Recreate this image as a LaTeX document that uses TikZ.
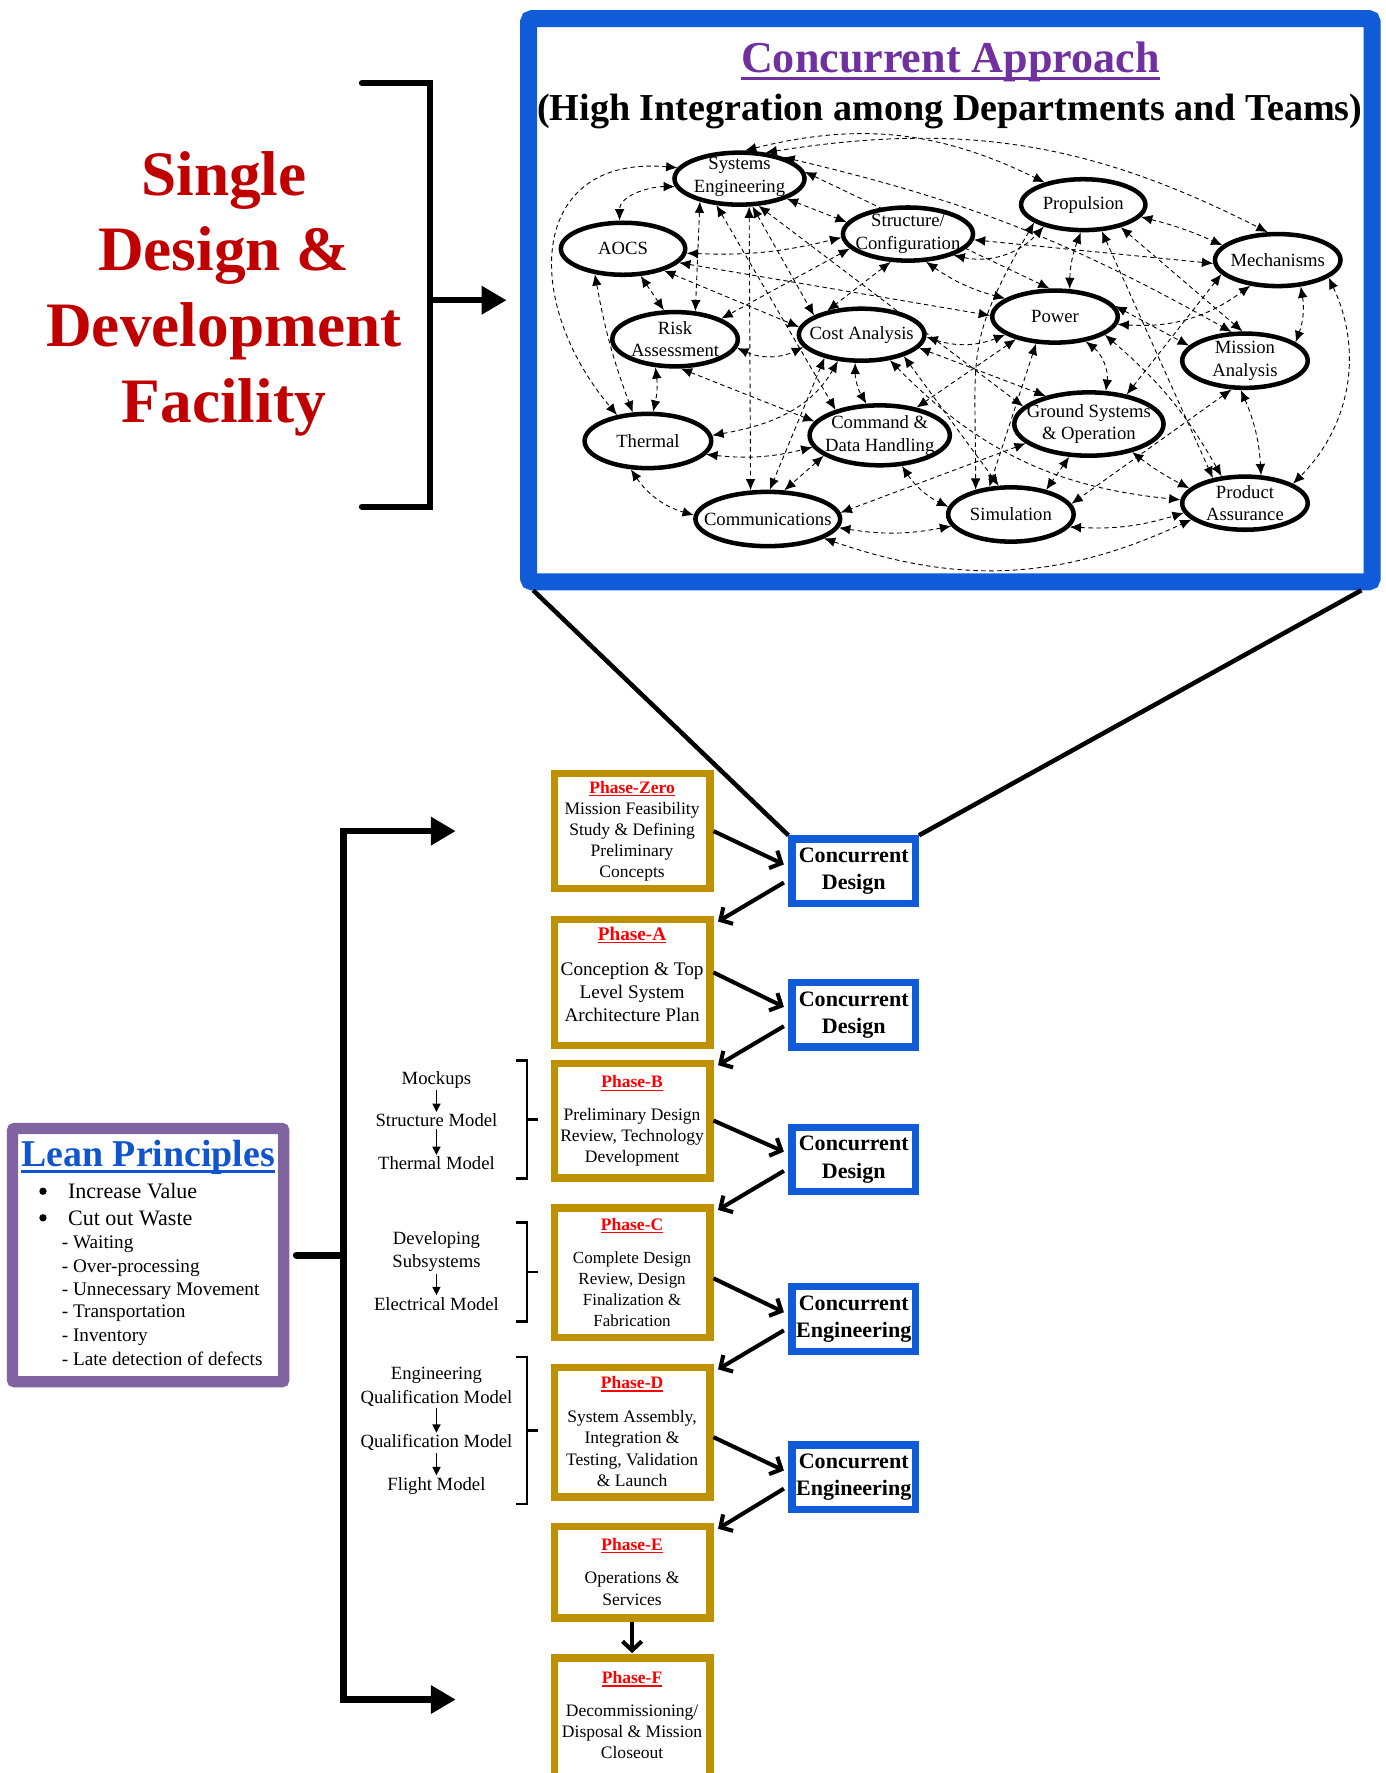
\documentclass[tikz,border=0pt]{standalone}
\usepackage{fontspec}
\setmainfont{Liberation Serif}
\usetikzlibrary{shapes.geometric,arrows.meta,backgrounds}
\definecolor{bigblue}{RGB}{16,92,216}
\definecolor{goldc}{RGB}{191,144,0}
\definecolor{sdred}{RGB}{192,0,0}
\definecolor{capurple}{RGB}{112,48,160}
\definecolor{leanpurple}{RGB}{128,100,162}
\definecolor{leanblue}{RGB}{17,85,204}
\newcommand{\ulbox}[1]{\setbox0\hbox{#1}\rlap{\rule[-0.16em]{\wd0}{0.07em}}\box0}
\begin{document}
\begin{tikzpicture}[x=1pt,y=-1pt,
  ell/.style={ellipse, draw, line width=4pt, fill=white, inner sep=0pt},
  elltxt/.style={align=center, inner sep=0pt, font=\fontsize{16.5}{20}\selectfont},
  conn/.style={line width=0.8pt, dash pattern=on 4pt off 3pt, {Latex[length=10pt,width=8.5pt]}-{Latex[length=10pt,width=8.5pt]}},
  pbox/.style={draw=goldc, line width=6.5pt, minimum width=137.5pt, inner sep=0pt},
  cbox/.style={draw=bigblue, line width=6.5pt, minimum width=109pt, minimum height=57pt, inner sep=0pt, align=center, font=\fontsize{19.5}{24}\selectfont\bfseries},
  ptitle/.style={font=\fontsize{15.5}{18}\selectfont\bfseries, text=red, inner sep=0pt},
  pbody/.style={align=center, inner sep=0pt, font=\fontsize{15.5}{18.7}\selectfont},
  sidetxt/.style={align=center, inner sep=1.5pt, font=\fontsize{16.5}{20.5}\selectfont},
  sidearr/.style={line width=1.7pt, -{Triangle[length=7.5pt,width=7pt]}},
  barb/.style={line width=3.6pt, -{Straight Barb[length=8pt,width=17pt]}},
  brk/.style={line width=2.4pt},
  bul/.style={circle, fill, inner sep=0pt, minimum size=6.5pt},
  sdtxt/.style={anchor=base, inner sep=0pt, text=sdred, font=\fontsize{56}{67}\selectfont\bfseries},
]
\useasboundingbox (0,0) rectangle (1225,1568);
\clip (0,0) rectangle (1225,1568);

% ---------- Single Design & Development Facility ----------
\node[sdtxt] (sd1) at (198,172.5) {Single};
\node[sdtxt] (sd2) at (198,239.4) {Design \&};
\node[sdtxt] (sd3) at (198,306.6) {Development};
\node[sdtxt] (sd4) at (198,373.8) {Facility};

% ---------- big blue box ----------
\node[draw=bigblue, line width=15pt, rounded corners=3pt, minimum width=746pt, minimum height=498pt, inner sep=0pt] (bigbox) at (840.5,265.5) {};
\coordinate (bkt) at (380,73.5);
\coordinate (bkb) at (380,448);
\coordinate (bkm) at (380,265.5);
\draw[line width=5.3pt, line cap=round, line join=miter] (320,73.5) -- (bkt) -- (bkb) -- (320,448);
\draw[line width=5.3pt, -{Triangle[length=22pt,width=24pt]}] (bkm) -- ([xshift=-12pt]bigbox.west);

\node[anchor=base, inner sep=0pt, text=capurple, font=\fontsize{39}{46}\selectfont\bfseries] (catitle) at (840.5,64.5) {\ulbox{Concurrent Approach}};
\node[anchor=base, inner sep=0pt, font=\fontsize{33.7}{40}\selectfont\bfseries] (casub) at (840,107) {(High Integration among Departments and Teams)};

% ---------- network nodes ----------
\node[ell, minimum width=115pt, minimum height=46pt] (SE) at (654,158) {};
\node[elltxt] (SEt) at (654,156.5) {Systems\\Engineering};
\node[ell, minimum width=110pt, minimum height=46pt] (AOCS) at (551,220) {};
\node[elltxt] (AOCSt) at (AOCS) {AOCS};
\node[ell, minimum width=115pt, minimum height=47pt] (STR) at (803,207) {};
\node[elltxt] (STRt) at (STR) {Structure/\\Configuration};
\node[ell, minimum width=110pt, minimum height=45pt] (PROP) at (958,181) {};
\node[elltxt] (PROPt) at (PROP) {Propulsion};
\node[ell, minimum width=111pt, minimum height=46pt] (MECH) at (1130,230) {};
\node[elltxt] (MECHt) at (MECH) {Mechanisms};
\node[ell, minimum width=111pt, minimum height=46pt] (PWR) at (933,280) {};
\node[elltxt] (PWRt) at (PWR) {Power};
\node[ell, minimum width=111pt, minimum height=48pt] (RISK) at (597,300) {};
\node[elltxt] (RISKt) at (RISK) {Risk\\Assessment};
\node[ell, minimum width=111pt, minimum height=46pt] (COST) at (762,296) {};
\node[elltxt] (COSTt) at (COST) {Cost Analysis};
\node[ell, minimum width=111pt, minimum height=48pt] (MIS) at (1101,319) {};
\node[elltxt] (MISt) at (MIS) {Mission\\Analysis};
\node[ell, minimum width=112pt, minimum height=48pt] (TH) at (573,390) {};
\node[elltxt] (THt) at (TH) {Thermal};
\node[ell, minimum width=124pt, minimum height=53pt] (CDH) at (778,385) {};
\node[elltxt] (CDHt) at (CDH) {Command \&\\Data Handling};
\node[ell, minimum width=132pt, minimum height=56pt] (GS) at (963,375) {};
\node[elltxt] (GSt) at (GS) {Ground Systems\\\& Operation};
\node[ell, minimum width=128pt, minimum height=48pt] (COM) at (679,459) {};
\node[elltxt] (COMt) at (COM) {Communications};
\node[ell, minimum width=111pt, minimum height=48pt] (SIM) at (894,455) {};
\node[elltxt] (SIMt) at (SIM) {Simulation};
\node[ell, minimum width=111pt, minimum height=47pt] (PA) at (1101,445) {};
\node[elltxt] (PAt) at (PA) {Product\\Assurance};

\begin{pgfonlayer}{background}
\draw[conn] (SE.187) to[out=180,in=90] (AOCS.97);
\draw[conn] (SE.170) to[out=175,in=130,looseness=1.5] (TH.140);
\draw[conn] (SE.210) -- (RISK.54);
\draw[conn] (SE.289) -- (COM.121);
\draw[conn] (SE.229) -- (CDH.150);
\draw[conn] (SE.295) -- (COST.158);
\draw[conn] (SE.305) -- (GS.165);
\draw[conn] (SE.337) -- (STR.169);
\draw[conn] (SE.79) to[bend left=20] (PROP.150);
\draw[conn] (SE.45) to[bend left=18] (MECH.110);
\draw[conn] (SE.26) to[bend left=8] (MIS.115);
\draw[conn] (SE.6) -- (PWR.101);
\draw[conn] (AOCS.356) to[bend right=8] (STR.183);
\draw[conn] (AOCS.303) -- (RISK.111);
\draw[conn] (AOCS.222) to[bend right=5] (TH.118);
\draw[conn] (AOCS.332) -- (COST.173);
\draw[conn] (AOCS.346) -- (PWR.179);
\draw[conn] (STR.194) -- (RISK.24);
\draw[conn] (STR.238) -- (COST.145);
\draw[conn] (STR.303) to[bend right=10] (PWR.160);
\draw[conn] (STR.335) to[bend right=30] (PROP.209);
\draw[conn] (STR.355) -- (MECH.183);
\draw[conn] (PROP.265) to[bend right=10] (PWR.62);
\draw[conn] (PROP.200) to[out=240,in=90,looseness=1.3] (SIM.145);
\draw[conn] (PROP.305) -- (PA.142);
\draw[conn] (PROP.329) -- (MIS.95);
\draw[conn] (PROP.348) to[bend left=5] (MECH.165);
\draw[conn] (PWR.200) to[bend left=20] (COST.358);
\draw[conn] (PWR.210) -- (CDH.37);
\draw[conn] (PWR.235) -- (SIM.128);
\draw[conn] (PWR.321) to[bend left=30] (GS.63);
\draw[conn] (PWR.10) -- (MIS.165);
\draw[conn] (PWR.353) to[bend right=20] (MECH.223);
\draw[conn] (PWR.340) to[bend left=10] (PA.131);
\draw[conn] (MECH.311) to[bend left=15] (MIS.20);
\draw[conn] (MECH.341) to[bend left=35] (PA.22);
\draw[conn] (MECH.194) -- (GS.38);
\draw[conn] (MIS.262) to[bend left=10] (PA.60);
\draw[conn] (MIS.245) -- (SIM.10);
\draw[conn] (RISK.352) to[bend right=25] (COST.192);
\draw[conn] (RISK.235) to[bend left=10] (TH.80);
\draw[conn] (RISK.281) -- (CDH.168);
\draw[conn] (COST.257) to[bend right=15] (CDH.113);
\draw[conn] (COST.212) -- (COM.86);
\draw[conn] (TH.5) to[out=10,in=240] (COST.228);
\draw[conn] (TH.347) to[bend right=10] (CDH.190);
\draw[conn] (TH.239) to[bend right=20] (COM.177);
\draw[conn] (COST.347) -- (GS.147);
\draw[conn] (COST.333) -- (SIM.113);
\draw[conn] (COST.318) to[bend right=20] (PA.177);
\draw[conn] (CDH.306) to[bend right=15] (SIM.173);
\draw[conn] (CDH.200) -- (COM.60);
\draw[conn] (GS.239) -- (SIM.35);
\draw[conn] (GS.327) to[bend right=5] (PA.165);
\draw[conn] (GS.197) -- (COM.5);
\draw[conn] (COM.353) to[bend right=10] (SIM.191);
\draw[conn] (COM.341) to[bend right=22] (PA.197);
\draw[conn] (SIM.348) to[bend right=10] (PA.189);
\end{pgfonlayer}

% ---------- phase boxes ----------
\node[pbox, minimum height=101.5pt] (pZ) at (559,735) {};
\node[pbody] (pZb) at (559,735) {\textcolor{red}{\bfseries\ulbox{Phase-Zero}}\\Mission Feasibility\\Study \& Defining\\Preliminary\\Concepts};

\node[pbox, minimum height=111.5pt] (pA) at (559,869) {};
\node[ptitle, font=\fontsize{17}{20}\selectfont\bfseries] (pAt) at (559,827) {\ulbox{Phase-A}};
\node[pbody, font=\fontsize{17}{20.5}\selectfont] (pAb) at (559,877.5) {Conception \& Top\\Level System\\Architecture Plan};

\node[pbox, minimum height=101.5pt] (pB) at (559,991) {};
\node[ptitle] (pBt) at (559,958) {\ulbox{Phase-B}};
\node[pbody] (pBb) at (559,1006) {Preliminary Design\\Review, Technology\\Development};

\node[pbox, minimum height=114.5pt] (pC) at (559,1125.5) {};
\node[ptitle] (pCt) at (559,1084) {\ulbox{Phase-C}};
\node[pbody, font=\fontsize{15}{18.7}\selectfont] (pCb) at (559,1140) {Complete Design\\Review, Design\\Finalization \&\\Fabrication};

\node[pbox, minimum height=114.5pt] (pD) at (559,1266.5) {};
\node[ptitle] (pDt) at (559,1224) {\ulbox{Phase-D}};
\node[pbody] (pDb) at (559,1281) {System Assembly,\\Integration \&\\Testing, Validation\\\& Launch};

\node[pbox, minimum height=80.5pt] (pE) at (559,1390.5) {};
\node[ptitle] (pEt) at (559,1367) {\ulbox{Phase-E}};
\node[pbody] (pEb) at (559,1405) {Operations \&\\Services};

\node[pbox, minimum height=115pt] (pF) at (559,1523.75) {};
\node[ptitle] (pFt) at (559,1485) {\ulbox{Phase-F}};
\node[pbody] (pFb) at (559,1531.5) {Decommissioning/\\Disposal \& Mission\\Closeout};

% ---------- concurrent boxes ----------
\node[cbox] (cd1) at (755,770.5) {Concurrent\\Design};
\node[cbox] (cd2) at (755,897.5) {Concurrent\\Design};
\node[cbox] (cd3) at (755,1025.5) {Concurrent\\Design};
\node[cbox] (ce1) at (755,1166.5) {Concurrent\\Engineering};
\node[cbox] (ce2) at (755,1306.5) {Concurrent\\Engineering};

\draw[line width=4pt] ([xshift=11.5pt]bigbox.south west) -- (cd1.north west);
\draw[line width=4pt] ([xshift=-17pt]bigbox.south east) -- (cd1.north east);

\draw[barb] (pZ.east) -- ([xshift=-4pt,yshift=6pt]cd1.west);
\draw[barb] ([xshift=-4pt,yshift=-10pt]cd1.west) -- ([xshift=4pt,yshift=-5pt]pA.north east);
\draw[barb] ([yshift=9pt]pA.east) -- ([xshift=-4pt,yshift=7pt]cd2.west);
\draw[barb] ([xshift=-4pt,yshift=-10pt]cd2.west) -- ([xshift=4pt,yshift=-5pt]pB.north east);
\draw[barb] (pB.east) -- ([xshift=-4pt,yshift=7pt]cd3.west);
\draw[barb] ([xshift=-4pt,yshift=-10pt]cd3.west) -- ([xshift=4pt,yshift=-5pt]pC.north east);
\draw[barb] ([yshift=-5pt]pC.east) -- ([xshift=-4pt,yshift=6pt]ce1.west);
\draw[barb] ([xshift=-4pt,yshift=-10pt]ce1.west) -- ([xshift=4pt,yshift=-5pt]pD.north east);
\draw[barb] ([yshift=-4.5pt]pD.east) -- ([xshift=-4pt,yshift=6pt]ce2.west);
\draw[barb] ([xshift=-4pt,yshift=-10pt]ce2.west) -- ([xshift=4pt,yshift=-5pt]pE.north east);
\draw[barb] (pE.south) -- ([yshift=1pt]pF.north);

% ---------- side texts and brackets ----------
\node[sidetxt] (mk) at (386,955) {Mockups};
\node[sidetxt] (stm) at (386,991) {Structure Model};
\node[sidetxt] (thm) at (386,1029) {Thermal Model};
\draw[sidearr] (mk) -- (stm);
\draw[sidearr] (stm) -- (thm);
\draw[brk] (456,938) -- (466,938) -- (466,1042) -- (456,1042);
\draw[brk] (466,990) -- (476,990);

\node[sidetxt] (dev) at (386,1107) {Developing\\Subsystems};
\node[sidetxt] (elm) at (386,1153) {Electrical Model};
\draw[sidearr] (dev) -- (elm);
\draw[brk] (456,1081) -- (466,1081) -- (466,1169) -- (456,1169);
\draw[brk] (466,1125) -- (476,1125);

\node[sidetxt] (eqm) at (386,1226.5) {Engineering\\Qualification Model};
\node[sidetxt] (qm) at (386,1276) {Qualification Model};
\node[sidetxt] (fm) at (386,1314) {Flight Model};
\draw[sidearr] (eqm) -- (qm);
\draw[sidearr] (qm) -- (fm);
\draw[brk] (456,1200) -- (466,1200) -- (466,1330) -- (456,1330);
\draw[brk] (466,1265) -- (476,1265);

% ---------- lean principles ----------
\node[draw=leanpurple, line width=10pt, rounded corners=2pt, minimum width=240pt, minimum height=224pt, inner sep=0pt] (lean) at (131,1110) {};
\node[anchor=base, inner sep=0pt, text=leanblue, font=\fontsize{33.5}{40}\selectfont\bfseries] (leant) at (131,1032) {\ulbox{Lean Principles}};
\node[bul] (b1) at (38,1053.5) {};
\node[anchor=base west, inner sep=0pt, font=\fontsize{19.5}{23}\selectfont] (l1) at (60,1060) {Increase Value};
\node[bul] (b2) at (38,1077) {};
\node[anchor=base west, inner sep=0pt, font=\fontsize{19.5}{23}\selectfont] (l2) at (60,1083.5) {Cut out Waste};
\node[anchor=base west, inner sep=0pt, font=\fontsize{17}{20}\selectfont] (s1) at (54.5,1104) {- Waiting};
\node[anchor=base west, inner sep=0pt, font=\fontsize{17}{20}\selectfont] (s2) at (54.5,1125) {- Over-processing};
\node[anchor=base west, inner sep=0pt, font=\fontsize{17}{20}\selectfont] (s3) at (54.5,1145.5) {- Unnecessary Movement};
\node[anchor=base west, inner sep=0pt, font=\fontsize{17}{20}\selectfont] (s4) at (54.5,1165.5) {- Transportation};
\node[anchor=base west, inner sep=0pt, font=\fontsize{17}{20}\selectfont] (s5) at (54.5,1186) {- Inventory};
\node[anchor=base west, inner sep=0pt, font=\fontsize{17}{20}\selectfont] (s6) at (54.5,1208) {- Late detection of defects};

% ---------- big left bracket ----------
\coordinate (lbt) at (304,735);
\coordinate (lbb) at (304,1503);
\coordinate (lbm) at (304,1110);
\draw[line width=6pt, line join=miter, {Triangle[length=22pt,width=24pt]}-{Triangle[length=22pt,width=24pt]}] (403,735) -- (lbt) -- (lbb) -- (403,1503);
\draw[line width=6pt, line cap=round] ([xshift=6pt]lean.east) -- (lbm);
\end{tikzpicture}
\end{document}
